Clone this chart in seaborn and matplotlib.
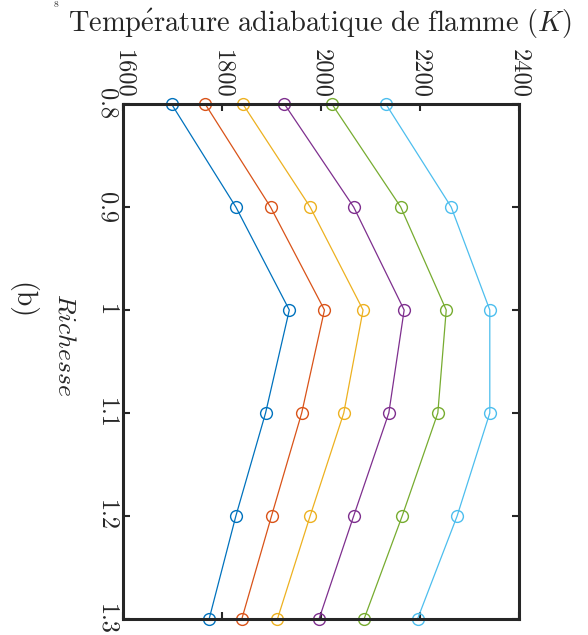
import numpy as np
import pandas as pd
import matplotlib
matplotlib.use("Agg")
import matplotlib.pyplot as plt
import seaborn as sns

# Richesse (equivalence ratio) and adiabatic flame temperature (K), one series per curve
richesse = [0.8, 0.9, 1.0, 1.1, 1.2, 1.3]
serie_1 = [1698, 1828, 1936, 1888, 1828, 1774]
serie_2 = [1766, 1898, 2007, 1961, 1900, 1840]
serie_3 = [1842, 1978, 2085, 2046, 1978, 1912]
serie_4 = [1926, 2066, 2168, 2137, 2066, 1996]
serie_5 = [2022, 2161, 2253, 2236, 2164, 2087]
serie_6 = [2131, 2263, 2341, 2341, 2275, 2195]
series_names = ["1", "2", "3", "4", "5", "6"]
colors = ["#0072BD", "#D95319", "#EDB120", "#7E2F8E", "#77AC30", "#4DBEEE"]

temp_ticks = [1600, 1800, 2000, 2200, 2400]
rich_ticks = [0.8, 0.9, 1.0, 1.1, 1.2, 1.3]
rich_labels = ["0.8", "0.9", "1", "1.1", "1.2", "1.3"]

rows = []
for name, vals in zip(series_names, [serie_1, serie_2, serie_3, serie_4, serie_5, serie_6]):
    for r, t in zip(richesse, vals):
        rows.append({"serie": name, "richesse": r, "temperature": t})
df = pd.DataFrame(rows)

sns.set_theme(style="white")
plt.rcParams["font.family"] = ["cmr10", "DejaVu Serif"]
plt.rcParams["mathtext.fontset"] = "cm"
plt.rcParams["axes.formatter.use_mathtext"] = True

fig = plt.figure(figsize=(5.88, 6.35), dpi=100)
ax = fig.add_axes([123 / 588, 1 - 619 / 635, 396 / 588, 515 / 635])

sns.lineplot(data=df, x="temperature", y="richesse", hue="serie", palette=colors,
             orient="y", sort=False, marker="o", markersize=8.5, linewidth=0.9,
             legend=False, ax=ax)
for line in ax.lines:
    line.set_markerfacecolor("none")
    line.set_markeredgecolor(line.get_color())
    line.set_markeredgewidth(1.0)
    line.set_clip_on(False)

ax.set_xlim(1600, 2400)
ax.set_ylim(1.3, 0.8)
ax.set_xticks(temp_ticks)
ax.set_xticklabels([str(t) for t in temp_ticks])
ax.set_yticks(rich_ticks)
ax.set_yticklabels(rich_labels)
ax.set_xlabel("")
ax.set_ylabel("")

ax.xaxis.tick_top()
ax.tick_params(axis="x", top=True, bottom=True, labeltop=True, labelbottom=False,
               direction="in", length=5, width=1.5, pad=4, labelsize=17.5,
               labelrotation=-90, colors="#262626")
ax.tick_params(axis="y", left=True, right=True, direction="in", length=5, width=1.5,
               pad=4, labelsize=17.5, colors="#262626")
for lab in ax.get_yticklabels():
    lab.set_rotation(-90)
    lab.set_va("center")
for lab in ax.get_xticklabels():
    lab.set_va("bottom")
    lab.set_ha("center")

for sp in ax.spines.values():
    sp.set_linewidth(2.2)
    sp.set_color("#262626")

fig.text(320 / 588, 1 - 24 / 635,
         r"$\mathrm{Temp\acute{e}rature\ adiabatique\ de\ flamme}\ (K)$",
         ha="center", va="center", fontsize=20.5, color="#262626")
fig.text(65 / 588, 1 - 345 / 635, r"$Richesse$", rotation=-90,
         ha="center", va="center", fontsize=18.5, color="#262626")
fig.text(22 / 588, 1 - 301 / 635, "(b)", rotation=-90,
         ha="center", va="center", fontsize=20, color="#262626")
fig.text(56 / 588, 1 - 0.5 / 635, "8", ha="center", va="top",
         fontsize=7, color="#262626")

fig.savefig("out.png", dpi=100, facecolor="white")
